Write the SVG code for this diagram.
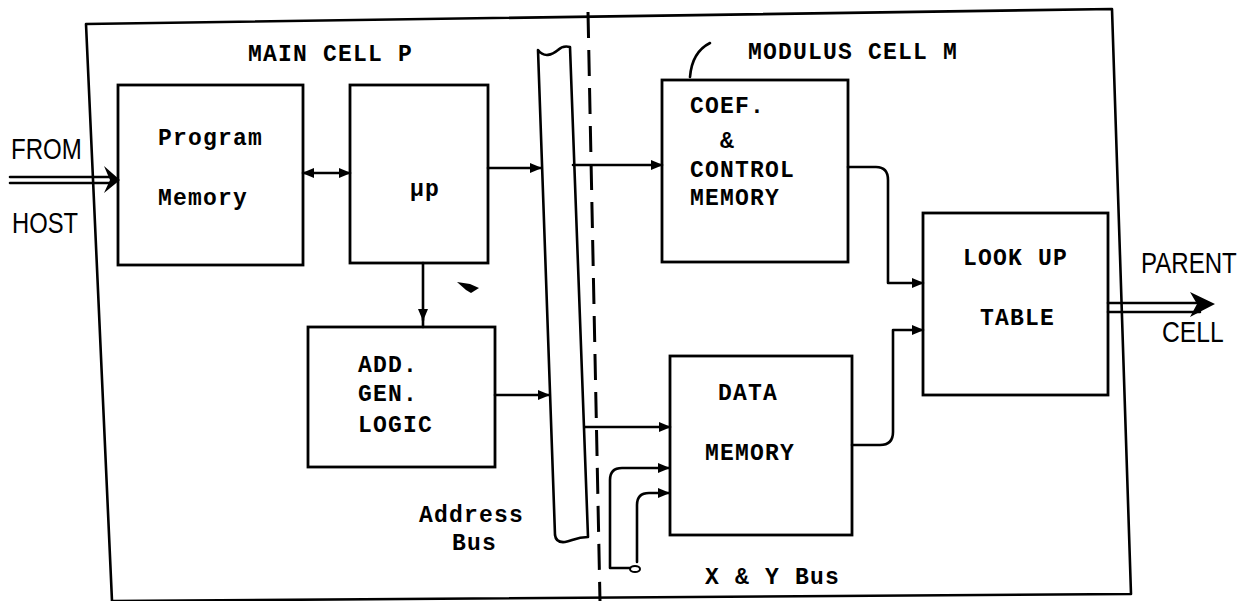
<svg xmlns="http://www.w3.org/2000/svg" width="1249" height="601" viewBox="0 0 1249 601">
<style>
.ln{fill:none;stroke:#000;stroke-width:2.6;stroke-linejoin:round;stroke-linecap:round}
.bx{fill:none;stroke:#000;stroke-width:2.8}
.t{font-family:"Liberation Mono","Courier New",monospace;font-size:23px;font-weight:bold;fill:#000;letter-spacing:1.2px}
.s{font-family:"Liberation Sans",Arial,sans-serif;font-size:29px;fill:#000}
</style>
<defs>
<marker id="ah" viewBox="0 0 12 10" refX="11" refY="5" markerWidth="12" markerHeight="10" markerUnits="userSpaceOnUse" orient="auto-start-reverse">
<path d="M0,0 L12,5 L0,10 Z" fill="#000"/>
</marker>
</defs>
<rect width="1249" height="601" fill="#fff"/>

<g id="frame">
<path class="ln" d="M86,24 L1112,9 L1131,594 L112,601 Z" stroke-width="3"/>
<path d="M588,12 L600,601" fill="none" stroke="#000" stroke-width="3" stroke-dasharray="26 12"/>
<text class="t" x="248" y="61">MAIN CELL P</text>
<text class="t" x="748" y="59">MODULUS CELL M</text>
<path class="ln" d="M690,77 Q692,52 710,43"/>
</g>

<g id="address-bus">
<path class="ln" d="M538,50 C544,58 552,55 558,50 C562,46 566,46 570,47 L588,537 C576,537 572,541 565,542 Q556,543 555,535 Z"/>
<text class="t" x="419" y="522">Address</text>
<text class="t" x="452" y="550">Bus</text>
</g>

<g id="program-memory">
<rect class="bx" x="118" y="85" width="185" height="180"/>
<text class="t" x="158" y="145">Program</text>
<text class="t" x="158" y="205">Memory</text>
</g>

<g id="up">
<rect class="bx" x="350" y="85" width="138" height="178"/>
<text class="t" x="410" y="196">μp</text>
</g>

<g id="add-gen-logic">
<rect class="bx" x="308" y="327" width="187" height="140"/>
<text class="t" x="358" y="372">ADD.</text>
<text class="t" x="358" y="401">GEN.</text>
<text class="t" x="358" y="432">LOGIC</text>
</g>

<g id="coef-memory">
<rect class="bx" x="662" y="80" width="186" height="182"/>
<text class="t" x="690" y="113">COEF.</text>
<text class="t" x="720" y="148">&amp;</text>
<text class="t" x="690" y="177">CONTROL</text>
<text class="t" x="690" y="205">MEMORY</text>
</g>

<g id="data-memory">
<rect class="bx" x="670" y="356" width="182" height="179"/>
<text class="t" x="718" y="400">DATA</text>
<text class="t" x="705" y="460">MEMORY</text>
<text class="t" x="705" y="584">X &amp; Y Bus</text>
</g>

<g id="look-up-table">
<rect class="bx" x="923" y="213" width="185" height="182"/>
<text class="t" x="963" y="265">LOOK UP</text>
<text class="t" x="980" y="325">TABLE</text>
</g>

<g id="labels">
<text class="s" transform="translate(11,159) scale(0.83,1)">FROM</text>
<text class="s" transform="translate(12,233) scale(0.82,1)">HOST</text>
<text class="s" transform="translate(1141,273) scale(0.83,1)">PARENT</text>
<text class="s" transform="translate(1162,342) scale(0.85,1)">CELL</text>
</g>

<g id="connectors">
<path class="ln" d="M10,177 L110,177 M10,183 L110,183"/>
<path d="M104,166 L120,180 L104,193 L110,180 Z" fill="#000"/>
<path class="ln" d="M303,173 L350,173" marker-start="url(#ah)" marker-end="url(#ah)"/>
<path class="ln" d="M488,168 L541,168" marker-end="url(#ah)"/>
<path class="ln" d="M573,165 L662,165" marker-end="url(#ah)"/>
<path class="ln" d="M423,263 L423,320" marker-end="url(#ah)"/>
<path class="ln" d="M423,318 L423,327"/>
<path class="ln" d="M495,395 L549,395" marker-end="url(#ah)"/>
<path class="ln" d="M585,427 L670,427" marker-end="url(#ah)"/>
<path class="ln" d="M848,167 L876,167 Q888,167 888,180 L888,283 L923,283" marker-end="url(#ah)"/>
<path class="ln" d="M852,445 L880,445 Q893,445 893,432 L893,330 L923,330" marker-end="url(#ah)"/>
<path class="ln" d="M630,568 L610,568 L610,480 Q610,468 622,468 L669,468" marker-end="url(#ah)"/>
<path class="ln" d="M637,562 L637,505 Q637,493 649,493 L669,493" marker-end="url(#ah)"/>
<ellipse cx="635" cy="569" rx="5" ry="3" fill="none" stroke="#000" stroke-width="2"/>
<path class="ln" d="M1108,303 L1200,303 M1108,312 L1200,312"/>
<path d="M1190,292 L1215,304 L1190,317 L1197,304 Z" fill="#000"/>
<path d="M457,282 L470,284 L479,288 L471,293 L466,290 Z" fill="#000"/>
</g>
</svg>
